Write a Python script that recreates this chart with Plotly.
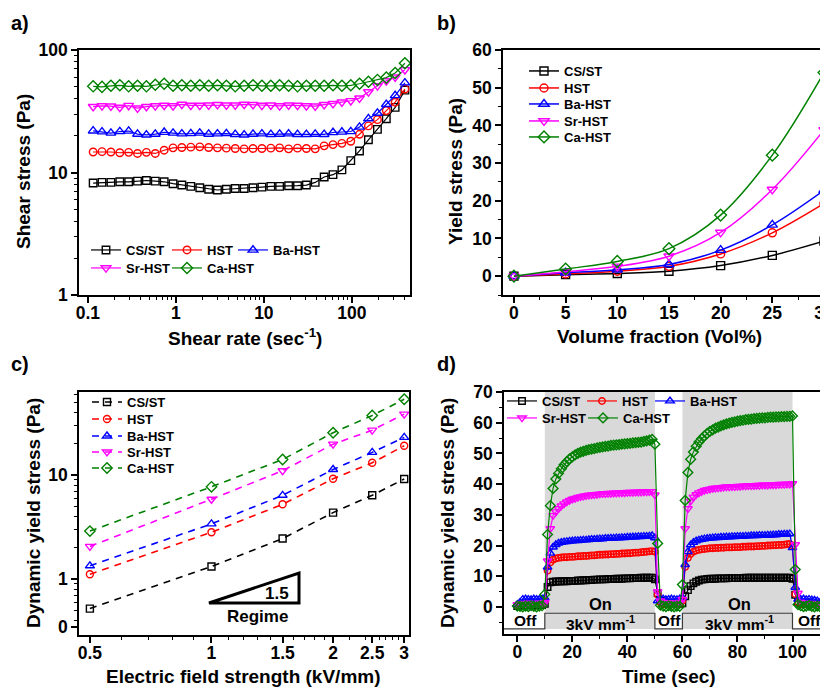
import plotly.graph_objects as go

W, H = 828, 687          # target window
OX, OY = 8, 8            # page (body) offset of the figure
FW, FH = W - OX, H - OY  # figure size

# ---------------- data ----------------
names = ["CS/ST", "HST", "Ba-HST", "Sr-HST", "Ca-HST"]

# (a) shear stress vs shear rate
shear_rate = [0.115, 0.145, 0.183, 0.231, 0.291, 0.367, 0.463, 0.584, 0.737, 0.930,
              1.17, 1.48, 1.87, 2.36, 2.97, 3.75, 4.73, 5.97, 7.53, 9.50,
              12.0, 15.1, 19.1, 24.1, 30.4, 38.3, 48.4, 61.0, 77.0, 97.1,
              122, 154, 195, 246, 310, 400]
a_csst = [8.2, 8.3, 8.3, 8.4, 8.4, 8.5, 8.6, 8.5, 8.4, 8.1,
          7.9, 7.7, 7.5, 7.3, 7.2, 7.3, 7.4, 7.4, 7.5, 7.6,
          7.7, 7.7, 7.8, 7.8, 7.9, 8.3, 9.2, 9.6, 10.5, 12.5,
          15.0, 18.5, 22.5, 27.5, 34.0, 47.0]
a_hst = [14.7, 14.8, 14.7, 14.5, 14.6, 14.3, 14.6, 14.3, 15.2, 15.9,
         16.0, 16.1, 16.2, 16.0, 15.9, 15.8, 15.7, 15.6, 15.7, 15.7,
         15.8, 15.9, 15.6, 15.8, 15.7, 15.6, 16.5, 16.9, 17.3, 18.0,
         20.5, 24.0, 27.0, 32.0, 37.5, 48.0]
a_ba = [21.9, 21.5, 21.0, 21.6, 21.8, 20.6, 20.3, 20.6, 21.3, 21.0,
        20.7, 20.8, 21.0, 20.6, 20.7, 20.8, 20.5, 20.3, 20.6, 20.7,
        20.5, 20.6, 20.7, 20.5, 20.5, 20.6, 20.5, 21.2, 21.4, 21.6,
        23.5, 27.5, 30.5, 36.0, 42.5, 54.0]
a_sr = [34.5, 35.0, 34.8, 34.0, 35.2, 33.5, 34.5, 35.0, 35.3, 35.0,
        36.0, 35.3, 35.3, 35.5, 35.8, 35.5, 35.5, 36.0, 35.8, 35.3,
        35.5, 35.0, 35.5, 35.3, 35.0, 34.8, 35.8, 36.5, 37.5, 38.5,
        40.5, 45.5, 51.0, 56.0, 60.0, 69.0]
a_ca = [50.5, 50.0, 51.0, 51.5, 50.5, 51.0, 50.5, 52.0, 53.0, 51.0,
        51.5, 51.0, 51.5, 51.0, 51.5, 51.0, 50.5, 51.0, 51.5, 51.0,
        51.0, 51.5, 51.0, 50.5, 51.0, 51.0, 51.0, 51.5, 51.0, 51.5,
        53.0, 55.0, 57.0, 59.5, 65.0, 78.0]

# (b) yield stress vs volume fraction
vol_fraction = [0, 5, 10, 15, 20, 25, 30]
b_csst = [0, 0.4, 0.7, 1.3, 2.8, 5.5, 9.3]
b_hst = [0, 0.6, 1.3, 2.6, 5.9, 11.5, 19.3]
b_ba = [0, 0.9, 1.7, 3.1, 6.9, 13.6, 22.8]
b_sr = [0, 1.2, 2.6, 5.3, 11.6, 23.0, 38.8]
b_ca = [0, 1.9, 3.9, 7.3, 16.2, 32.1, 54.0]

# (c) dynamic yield stress vs electric field
field = [0.5, 1, 1.5, 2, 2.5, 3]
field_labels = ["0.5", "1", "1.5", "2", "2.5", "3"]
c_csst = [0.52, 1.32, 2.45, 4.35, 6.38, 9.16]
c_hst = [1.11, 2.82, 5.23, 9.2, 13.1, 19.1]
c_ba = [1.34, 3.39, 6.38, 11.3, 16.5, 23.0]
c_sr = [2.06, 5.85, 11.0, 19.8, 27.0, 38.5]
c_ca = [2.89, 7.7, 14.1, 25.5, 37.3, 53.5]

# (d) dynamic yield stress vs time (on/off switching)
time_s = list(range(0, 111))
d_csst = [0.3, 0.5, 0.6, 0.5, 0.6, 0.7, 0.5, 0.6, 0.7, 0.6,
          1.0,
          6.5, 8.0, 8.2, 8.3,
          8.3, 8.4, 8.4, 8.4, 8.5, 8.5, 8.5, 8.6, 8.6, 8.7, 8.7, 8.8, 8.8, 8.9, 8.9, 9.0,
          9.0, 9.0, 9.1, 9.1, 9.1, 9.2, 9.2, 9.2, 9.3, 9.3, 9.3, 9.4, 9.4, 9.4, 9.5, 9.5, 9.5, 9.5, 9.5,
          9.0,
          4.5, 2.0, 1.2, 1.0, 1.1, 0.9, 1.0, 1.1, 1.0,
          1.2, 3.5, 5.5, 6.8, 7.7, 8.2, 8.6, 8.9, 9.0, 9.1, 9.2,
          9.2, 9.2, 9.3, 9.3, 9.3, 9.3, 9.4, 9.4, 9.4, 9.4,
          9.4, 9.4, 9.5, 9.5, 9.5, 9.5, 9.5, 9.5, 9.5, 9.5,
          9.5, 9.5, 9.5, 9.5, 9.5, 9.5, 9.5, 9.5, 9.5, 9.2,
          4.0, 1.8, 1.2, 1.0, 1.1, 1.0, 0.9, 1.0, 1.1, 0.9]
d_hst = [0.6, 0.8, 0.9, 1.0, 0.8, 0.9, 1.0, 0.9, 0.8, 1.0,
         2.0,
         11.8, 14.5, 15.4, 15.8, 16.0,
         16.1, 16.2, 16.2, 16.3, 16.3, 16.4, 16.5, 16.5, 16.6, 16.6, 16.7, 16.8, 16.8, 16.9, 17.0,
         17.0, 17.1, 17.1, 17.2, 17.2, 17.3, 17.3, 17.4, 17.4, 17.5, 17.5, 17.6, 17.7, 17.7, 17.8, 17.9, 18.0, 18.1, 18.2,
         18.0,
         4.0, 1.5, 1.0, 0.9, 1.0, 0.8, 1.0, 0.9, 1.0,
         2.0, 13.0, 16.0, 17.3, 18.0, 18.4, 18.6, 18.8, 18.9, 19.0, 19.1,
         19.1, 19.2, 19.2, 19.3, 19.3, 19.4, 19.4, 19.4, 19.5, 19.5,
         19.5, 19.6, 19.6, 19.7, 19.7, 19.7, 19.8, 19.8, 19.9, 19.9,
         20.0, 20.0, 20.1, 20.1, 20.2, 20.2, 20.3, 20.4, 20.5, 20.0,
         4.2, 1.5, 1.0, 0.9, 1.0, 0.8, 0.9, 1.0, 0.8, 0.7]
d_ba = [0.8, 1.5, 2.5, 2.6, 2.5, 2.4, 2.6, 2.5, 2.5, 2.6,
        3.0,
        13.0, 17.5, 19.5, 20.3, 20.8, 21.0, 21.2, 21.3, 21.4, 21.5,
        21.6, 21.6, 21.7, 21.8, 21.8, 21.9, 22.0, 22.0, 22.1, 22.2,
        22.2, 22.3, 22.3, 22.4, 22.4, 22.5, 22.5, 22.6, 22.6, 22.7, 22.7, 22.8, 22.8, 22.9, 22.9, 23.0, 23.0, 23.1, 23.2,
        22.5,
        2.0, 2.5, 2.6, 2.4, 2.5, 2.6, 2.5, 2.4, 2.6,
        3.0, 13.8, 18.0, 20.2, 21.0, 21.5, 21.8, 22.0, 22.2, 22.3, 22.4,
        22.5, 22.6, 22.6, 22.7, 22.7, 22.8, 22.8, 22.9, 22.9, 23.0,
        23.0, 23.0, 23.1, 23.1, 23.2, 23.2, 23.2, 23.3, 23.3, 23.3,
        23.4, 23.4, 23.5, 23.5, 23.6, 23.6, 23.7, 23.7, 23.8, 19.3,
        6.4, 2.5, 2.5, 2.6, 2.4, 2.5, 2.3, 2.2, 2.0, 1.5]
d_sr = [0.8, 1.0, 1.2, 1.0, 1.3, 1.1, 1.2, 1.0, 1.3, 1.2,
        1.5,
        15.0, 25.5, 29.8, 31.0, 32.0, 32.9, 33.6, 34.2, 34.7, 35.1,
        35.4, 35.7, 35.9, 36.1, 36.3, 36.4, 36.5, 36.6, 36.7, 36.8,
        36.9, 36.9, 37.0, 37.0, 37.1, 37.1, 37.2, 37.2, 37.2, 37.3, 37.3, 37.3, 37.4, 37.4, 37.4, 37.5, 37.5, 37.6, 37.6,
        36.5,
        5.0, 2.0, 1.5, 1.2, 1.4, 1.1, 1.3, 1.2, 1.5,
        2.5, 25.5, 32.0, 34.5, 35.8, 36.6, 37.2, 37.6, 38.0, 38.2, 38.4,
        38.6, 38.7, 38.8, 38.9, 39.0, 39.1, 39.1, 39.2, 39.2, 39.3,
        39.3, 39.4, 39.4, 39.5, 39.5, 39.5, 39.6, 39.6, 39.7, 39.7,
        39.7, 39.8, 39.8, 39.8, 39.9, 39.9, 39.9, 40.0, 40.0, 40.2,
        20.3, 4.5, 1.5, 1.2, 1.3, 1.0, 1.2, 1.1, 1.0, 0.8]
d_ca = [0.3, 0.2, 0.0, 0.3, 0.1, 0.4, 0.2, 0.0, 0.3, 0.4,
        4.1,
        23.6, 33.0, 38.6, 41.7, 43.5, 45.0, 46.3, 47.3, 48.2, 48.9,
        49.5, 50.0, 50.4, 50.7, 51.0, 51.2, 51.4, 51.6, 51.8, 52.0,
        52.1, 52.3, 52.4, 52.6, 52.7, 52.8, 52.9, 53.0, 53.1, 53.2, 53.3, 53.4, 53.5, 53.6, 53.7, 53.9, 54.1, 54.3, 54.6,
        53.0,
        20.7, 0.6, 0.3, 0.1, 0.4, 0.2, 0.0, 0.3, 0.2,
        7.3, 34.7, 43.8, 48.1, 50.5, 52.3, 53.7, 54.8, 55.7, 56.5, 57.2,
        57.7, 58.2, 58.6, 59.0, 59.3, 59.6, 59.9, 60.1, 60.3, 60.5,
        60.7, 60.8, 61.0, 61.1, 61.2, 61.3, 61.4, 61.5, 61.6, 61.6,
        61.7, 61.8, 61.8, 61.9, 61.9, 62.0, 62.0, 62.1, 62.1, 62.2,
        12.2, 0.8, 0.4, 0.1, 0.3, 0.5, 0.2, 0.0, 0.3, 0.1]
on_periods = [(10, 50), (60, 100)]

# ---------------- styles ----------------
colors = ["#000000", "#ff0000", "#0000ff", "#ff00ff", "#008000"]
symbols = ["square-open", "circle-open", "triangle-up-open", "triangle-down-open", "diamond-open"]
FONT = "Liberation Sans, Arial, sans-serif"


def px(x):
    return (x - OX) / FW


def py(y):
    return 1 - (y - OY) / FH


fig = go.Figure()

# legend anchor points (symbol start x, row centre y) in window pixels
leg_pos = {
    "a": [(91, 250), (172, 250), (238, 250), (91, 268), (172, 268)],
    "b": [(529, 71), (529, 88), (529, 104), (529, 121), (529, 137)],
    "c": [(92, 402), (92, 419), (92, 436), (92, 452), (92, 468)],
    "d": [(507, 401), (587, 401), (655, 401), (507, 418), (588, 418)],
}
legend_layouts = {}
leg_counter = [0]


def new_legend(pos):
    leg_counter[0] += 1
    k = leg_counter[0]
    name = "legend" if k == 1 else f"legend{k}"
    legend_layouts[name] = dict(
        x=px(pos[0] - 5), y=py(pos[1]), xanchor="left", yanchor="middle",
        bgcolor="rgba(0,0,0,0)", borderwidth=0,
        font=dict(family=FONT, size=13, color="black", weight="bold"),
        itemwidth=30, tracegroupgap=0,
    )
    return name


panels = {
    "a": (shear_rate, [a_csst, a_hst, a_ba, a_sr, a_ca], "x", "y"),
    "b": (vol_fraction, [b_csst, b_hst, b_ba, b_sr, b_ca], "x2", "y2"),
    "c": (field, [c_csst, c_hst, c_ba, c_sr, c_ca], "x3", "y3"),
    "d": (time_s, [d_csst, d_hst, d_ba, d_sr, d_ca], "x4", "y4"),
}
msize = {"a": 7.5, "b": 8, "c": 7, "d": 6.5}

for key, (xv, ys, xa, ya) in panels.items():
    for i, yv in enumerate(ys):
        line = dict(color=colors[i], width=1.2)
        if key == "b":
            line.update(shape="spline", width=1.5)
        if key == "c":
            line.update(dash="7px,6px", width=1.6)
        fig.add_trace(go.Scatter(
            x=xv, y=yv, xaxis=xa, yaxis=ya, name=names[i],
            mode="lines+markers", line=line,
            marker=dict(symbol=symbols[i], size=msize[key] + (1 if i >= 2 else 0),
                        color=colors[i], line=dict(width=1.4, color=colors[i])),
            legend=new_legend(leg_pos[key][i]), showlegend=True,
        ))

# ---------------- axes ----------------
common = dict(showline=True, linecolor="black", linewidth=1.6, mirror=True,
              ticks="outside", ticklen=6, tickwidth=1.5, tickcolor="black",
              showgrid=False, zeroline=False, automargin=False,
              ticklabeloverflow="allow",
              tickfont=dict(family=FONT, size=17.5, color="black", weight="bold"))
xcommon = dict(common, ticklabelstandoff=-5)
minor_common = dict(ticks="outside", ticklen=3.5, tickwidth=1.2, tickcolor="black", showgrid=False)


def dom_x(a, b):
    return [max(0.0, px(a)), min(1.0, px(b))]


def dom_y(top, bottom):
    return [max(0.0, py(bottom)), min(1.0, py(top))]


fig.update_layout(
    xaxis=dict(xcommon, domain=dom_x(79, 410), type="log", range=[-1.10, 2.66], anchor="y",
               tickvals=[0.1, 1, 10, 100], ticktext=["0.1", "1", "10", "100"],
               minor=dict(minor_common, tickvals=[0.2, 0.3, 0.4, 0.5, 0.6, 0.7, 0.8, 0.9,
                                                 2, 3, 4, 5, 6, 7, 8, 9,
                                                 20, 30, 40, 50, 60, 70, 80, 90,
                                                 200, 300, 400])),
    yaxis=dict(common, domain=dom_y(50, 295), type="log", range=[0, 2], anchor="x",
               tickvals=[1, 10, 100], ticktext=["1", "10", "100"],
               minor=dict(minor_common, tickvals=[2, 3, 4, 5, 6, 7, 8, 9,
                                                 20, 30, 40, 50, 60, 70, 80, 90])),
    xaxis2=dict(xcommon, domain=dom_x(503, 828), range=[-1.06, 30.39], anchor="y2",
                tick0=0, dtick=5, minor=dict(minor_common, dtick=2.5)),
    yaxis2=dict(common, domain=dom_y(50, 295), range=[-5, 60], anchor="x2",
                tick0=0, dtick=10, minor=dict(minor_common, dtick=5)),
    xaxis3=dict(xcommon, domain=dom_x(79, 409), type="log", range=[-0.328, 0.489], anchor="y3",
                tickvals=field, ticktext=field_labels,
                minor=dict(minor_common, tickvals=[0.6, 0.7, 0.8, 0.9, 1.1, 1.2, 1.3, 1.4,
                                                  1.6, 1.7, 1.8, 1.9, 2.2, 2.4, 2.6, 2.7,
                                                  2.8, 2.9])),
    yaxis3=dict(common, domain=dom_y(392, 635), type="log", range=[-0.538, 1.798], anchor="x3",
                tickvals=[0.346, 1, 10], ticktext=["0", "1", "10"],
                minor=dict(minor_common, tickvals=[0.4, 0.5, 0.6, 0.7, 0.8, 0.9,
                                                  2, 3, 4, 5, 6, 7, 8, 9,
                                                  20, 30, 40, 50, 60])),
    xaxis4=dict(xcommon, domain=dom_x(504, 828), range=[-4.83, 112.9], anchor="y4",
                tick0=0, dtick=20, minor=dict(minor_common, dtick=10)),
    yaxis4=dict(common, domain=dom_y(392, 634), range=[-8.8, 70], anchor="x4",
                tick0=0, dtick=10, minor=dict(minor_common, dtick=5)),
)

# ---------------- shapes ----------------
shapes = []
for (t0, t1) in on_periods:
    shapes.append(dict(type="rect", xref="x4", yref="y4", x0=t0, x1=t1, y0=-7.15, y1=70,
                       fillcolor="#d9d9d9", line=dict(width=0), layer="below"))
step_path = ("M -4.83,-7.15 L 10,-7.15 L 10,-2.05 L 50,-2.05 L 50,-7.15 L 60,-7.15 "
             "L 60,-2.05 L 100,-2.05 L 100,-7.15 L 112.9,-7.15")
shapes.append(dict(type="path", xref="x4", yref="y4", path=step_path,
                   line=dict(color="#3a3a3a", width=1.2), layer="above"))
tri = f"M {px(209)},{py(603)} L {px(299)},{py(573)} L {px(299)},{py(603)} Z"
shapes.append(dict(type="path", xref="paper", yref="paper", path=tri,
                   line=dict(color="black", width=3), fillcolor="rgba(0,0,0,0)"))
fig.update_layout(shapes=shapes)

# ---------------- annotations ----------------
ann = []


def txt(text, x, y, size, angle=0, ref="paper", xref=None, yref=None):
    d = dict(text=text, showarrow=False, textangle=angle,
             font=dict(family=FONT, size=size, color="black", weight="bold"),
             xanchor="center", yanchor="middle")
    if ref == "paper":
        d.update(xref="paper", yref="paper", x=px(x), y=py(y))
    else:
        d.update(xref=xref, yref=yref, x=x, y=y)
    ann.append(d)


txt("a)", 20, 23, 20)
txt("b)", 446, 23, 20)
txt("c)", 20, 364, 20)
txt("d)", 446, 364, 20)
txt("Shear stress (Pa)", 23, 172, 19, -90)
txt("Shear rate (sec<sup>-1</sup>)", 245, 337, 19)
txt("Yield stress (Pa)", 455, 172, 19, -90)
txt("Volume fraction (Vol%)", 659, 336, 19)
txt("Dynamic yield stress (Pa)", 33, 513, 19, -90)
txt("Electric field strength (kV/mm)", 244, 676, 19)
txt("Dynamic yield stress (Pa)", 447, 513, 19, -90)
txt("Time (sec)", 669, 676, 19)
txt("1.5", 277, 593, 17)
txt("Regime", 257, 616, 17)
for tx in (30.3, 80.8):
    txt("On", tx, 1.1, 16.5, ref="data", xref="x4", yref="y4")
    txt("3kV mm<sup>-1</sup>", tx, -5.3, 15.5, ref="data", xref="x4", yref="y4")
for tx in (2.8, 55.4, 106.2):
    txt("Off", tx, -4.4, 15.5, ref="data", xref="x4", yref="y4")

fig.update_layout(annotations=ann)
fig.update_layout(**legend_layouts)

fig.update_layout(
    width=FW, height=FH, margin=dict(l=0, r=0, t=0, b=0, pad=0, autoexpand=False),
    paper_bgcolor="white", plot_bgcolor="rgba(0,0,0,0)",
    font=dict(family=FONT, color="black", weight="bold"),
)

fig.write_html("out.html")
